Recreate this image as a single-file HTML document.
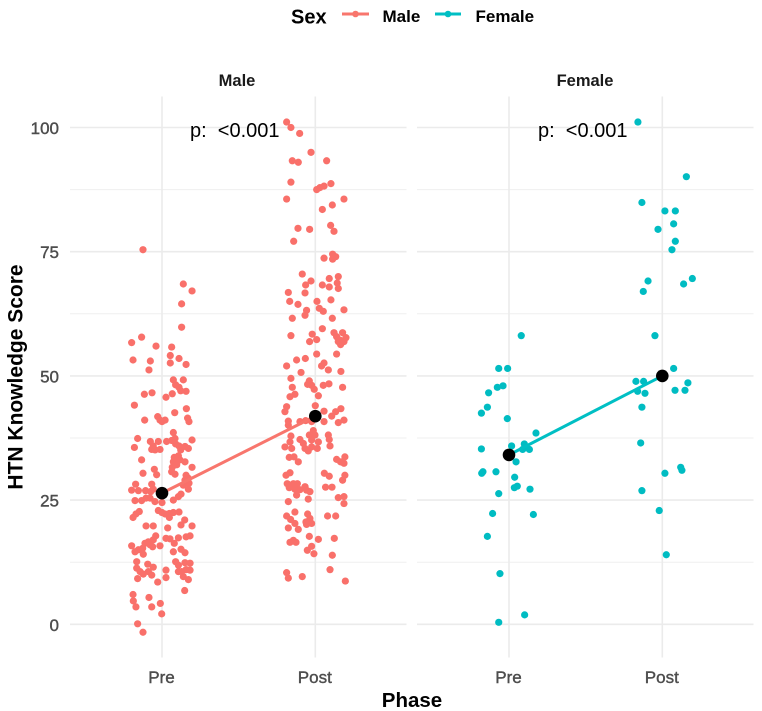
<!DOCTYPE html>
<html>
<head>
<meta charset="utf-8">
<title>HTN Knowledge Score by Phase and Sex</title>
<style>
html,body{margin:0;padding:0;background:#fff;width:762px;height:711px;overflow:hidden}
svg{display:block;filter:blur(0.35px)}
text{font-family:"Liberation Sans",sans-serif}
</style>
</head>
<body>
<svg id="chart" xmlns="http://www.w3.org/2000/svg" width="762" height="711" viewBox="0 0 762 711">
  <rect width="762" height="711" fill="#ffffff"/>
  <g id="grid"></g>
  <g id="marks"></g>
  <g id="labels"></g>
  <text x="237" y="86" font-size="16.5" font-weight="700" fill="#1a1a1a" text-anchor="middle">Male</text>
  <text x="585" y="86" font-size="16.5" font-weight="700" fill="#1a1a1a" text-anchor="middle">Female</text>
  <text x="190" y="137" font-size="20" fill="#000000" xml:space="preserve">p:  &lt;0.001</text>
  <text x="538" y="137" font-size="20" fill="#000000" xml:space="preserve">p:  &lt;0.001</text>
  <text transform="translate(22.5,377) rotate(-90)" font-size="21" font-weight="700" fill="#000000" text-anchor="middle">HTN Knowledge Score</text>
  <text x="412" y="707" font-size="20.5" font-weight="700" fill="#000000" text-anchor="middle">Phase</text>
  <g>
    <text x="291" y="23.5" font-size="20" font-weight="700" fill="#000000">Sex</text>
    <g>
      <line x1="342" x2="369" y1="14" y2="14" stroke="#F8766D" stroke-width="3"/>
      <circle cx="355.5" cy="14" r="3.3" fill="#F8766D"/>
      <text x="382.5" y="22" font-size="17" font-weight="700" fill="#000000">Male</text>
    </g>
    <g>
      <line x1="435" x2="461" y1="14" y2="14" stroke="#00BFC4" stroke-width="3"/>
      <circle cx="448" cy="14" r="3.3" fill="#00BFC4"/>
      <text x="475.5" y="22" font-size="17" font-weight="700" fill="#000000">Female</text>
    </g>
  </g>
</svg>
<script>
const phaseLabels = ["Pre", "Post"];
const yTickValues = [0, 25, 50, 75, 100];
const yMinorValues = [12.5, 37.5, 62.5, 87.5];
const maleMeans = [26.4, 41.9];
const femaleMeans = [34.1, 50];
// each point: [horizontal jitter in category units, score]
const malePrePoints = [[-.124,75.4],[.139,68.5],[.196,67.1],[.128,64.5],[.128,59.8],[-.133,57.8],[-.198,56.7],[-.039,56],[.063,55.8],[.054,54.1],[-.189,53.2],[-.076,53],[.111,53.5],[.054,52.6],[.157,52.3],[-.085,51.2],
[.074,49.2],[.139,49.2],[.089,48.2],[.111,47.7],[.122,47],[.157,46.9],[-.115,46.3],[-.065,46.6],[.067,46.4],[.026,45.7],[-.18,44.1],[.159,43.4],[.083,42.6],[-.028,41.8],[-.113,41.1],[-.013,41.1],[.02,41.1],[0,40.8],[.167,41.5],[.176,40.8],
[.074,38.6],[-.159,37.4],[.196,37.1],[-.076,36.8],[-.024,36.8],[.03,36.8],[.063,37],[.085,37.4],[.089,36.3],[.111,35.9],[.172,35.4],[.15,35.8],[.122,35.1],[-.18,35.6],[-.067,35.2],[-.045,35.1],[-.013,35.2],[-.057,35.9],
[-.133,33.1],[.08,33.6],[.107,33.9],[.074,32.7],[.117,33.1],[.15,32.7],[.067,31.6],[.096,32.1],[.196,31.6],[.063,30.7],[-.05,31.2],[-.124,30.4],[-.035,30.1],[.085,30.2],[.157,30],[.172,29.4],[.15,29],[.176,28.4],[-.067,28.2],[-.172,28.2],[.139,28],
[-.198,27],[-.154,26.9],[-.107,26.9],[-.074,26.7],[-.057,27.2],[.172,27.2],[.124,26.2],[.107,25.7],[.074,25],[-.176,24.9],[-.133,24.9],[-.104,25.4],[-.078,25.4],[-.046,24.7],[0,24.5],
[-.148,22.7],[-.17,22.2],[-.189,21.5],[-.024,22.9],[0,22.5],[.02,22.2],[.048,22.3],[.074,22.5],[.111,22.6],[.048,21.5],[.148,21],[.124,20],[.196,19.8],[-.104,19.8],[-.057,19.8],[.037,19.4],
[-.041,17.8],[.183,17.8],[.157,17.6],[.107,17.4],[.026,17.3],[.052,17.2],[-.057,17],[-.089,16.6],[-.111,16.3],[-.078,16],[-.013,15.8],[.08,16.3],[-.198,15.8],[-.176,14.6],[-.061,15.6],[-.126,15.3],[-.154,15],[-.122,14.1],[.124,15.1],[.15,14.4],[.074,14.6],
[-.165,12.6],[.089,12.6],[-.093,12.1],[-.057,11.5],[.107,11.9],[.15,12.4],[.183,12.3],[-.165,11.3],[-.143,10.6],[.026,10.9],[.107,10.6],[.183,10.9],[.128,10.6],[.157,11],[-.089,10.6],[-.122,10.1],[-.067,9.9],[.026,9.4],[-.159,9.2],[.139,9.6],[.172,9],[-.028,8.5],
[.148,6.8],[-.189,6],[-.085,5.4],[-.187,4.7],[-.011,4.2],[-.17,3.5],[-.067,3.5],[-.002,2.1],[-.159,.1],[-.124,-1.6]];
const malePostPoints = [[-.187,101.1],[-.159,100],[-.102,98.8],[-.028,95],[-.15,93.3],[-.111,93],[.074,93.3],[-.159,89],[.102,88.7],[.057,88.2],[.03,87.9],[.009,87.5],[-.187,85.6],[.187,85.6],[.111,84.4],[.046,83.5],[.1,80.3],[.122,79.1],[-.113,79.7],[-.037,79.5],[-.141,77.1],
[.057,73.7],[.113,74.5],[.133,74],[.113,73.5],[-.085,70.5],[.15,70],[.091,69.6],[-.028,69.1],[-.063,68.3],[.046,68.3],[.091,67.9],[.143,68.7],[.15,67.6],[-.067,66.7],[-.176,66.8],[-.167,65],[-.113,64.4],[.011,65],[.102,65.3],[-.057,63.2],[.026,63.6],[.052,63],[.187,63.3],[-.067,62.2],[-.15,61.6],[.111,61.6],
[.046,59.5],[-.159,58.1],[-.02,58.4],[.009,57.3],[-.037,56.9],[.122,58.7],[.178,58.7],[.139,57.9],[.2,57.7],[.161,57.2],[.187,56.9],[.165,56.3],[.15,56.9],
[.009,54.4],[.139,54.4],[-.187,52],[-.122,53.2],[-.065,53.5],[.057,52.6],[.041,52],[.085,51.2],[-.093,50.7],[.167,50.9],[-.159,49.5],[-.039,49],[-.05,48.3],[-.024,48.1],[-.007,47.3],[-.15,47.7],[-.133,46.3],[-.165,45.8],[.052,48.1],[.089,48.4],[.178,47.7],[.02,46],
[0,44],[-.187,43.8],[-.198,42.8],[.057,42.9],[.167,43.4],[.133,42.8],[.107,41.9],[.187,41.1],[.15,40.6],[.057,40.8],[-.176,40.9],[-.176,40.1],[-.1,40.8],[-.063,41],[-.024,40.8],
[-.159,37.9],[-.013,39],[-.039,38.1],[-.002,38.1],[.085,38.1],[-.1,37.2],[-.024,37.1],[-.165,36.7],[.091,37.2],[-.078,36.4],[.02,36.7],[-.198,35.7],[-.154,35.4],[-.067,35.4],[-.024,35.7],[-.046,34.9],[.013,35.4],[.096,35.9],
[-.17,33.6],[-.139,33.7],[-.111,32.7],[.193,33.7],[.139,33.2],[.165,32.7],[.187,32.4],[.059,30.4],[.091,29.8],[.193,30],[.178,29],[-.191,30],[-.165,30.5],[-.183,28.3],[-.143,28.3],[-.117,28.3],[-.17,27.5],[-.133,27.2],[-.067,27.7],[-.1,27.1],[-.057,27],[-.035,26.7],[-.122,26],[.067,27.6],[.109,27.6],
[.15,25.5],[.187,25.7],[.187,24.3],[-.046,25.2],[-.176,24.7],[-.133,22.6],[-.187,21.8],[-.161,21.1],[-.133,20.3],[-.176,19.4],[-.111,19.1],[-.05,22.2],[-.035,21.3],[-.061,20.6],[-.024,20.3],[-.057,20.1],[.08,21.8],[.133,21.8],
[-.039,17.7],[.02,17.1],[.124,17.3],[-.143,16.9],[-.165,16.5],[-.126,16.5],[-.024,15.7],[-.052,14.9],[-.009,14.2],[.111,13.9],[.096,11],[-.187,10.4],[-.176,9.3],[-.085,9.6],[.196,8.7]];
const femalePrePoints = [[.08,58.1],[-.067,51.5],[-.009,51.5],[-.076,47.7],[-.039,48],[-.133,46.6],[-.141,43.7],[-.18,42.5],[-.011,41.4],[.176,38.5],[-.18,35.3],[.017,35.9],[.1,36.3],[.089,35.2],[.111,35.7],[.133,35.2],[.046,32.7],[-.17,30.7],[-.178,30.4],[-.085,30.7],[.037,29.6],[.054,27.8],[.035,27.5],[.137,27.2],[-.067,26.3],[-.107,22.3],[.159,22.1],[-.141,17.7],[-.059,10.2],[.102,1.9],[-.067,.4]];
const femalePostPoints = [[-.159,101.1],[.157,90.1],[-.133,84.9],[.017,83.2],[.085,83.2],[.074,80.6],[-.028,79.5],[.085,77.1],[.063,75.4],[-.093,69.1],[.196,69.6],[.139,68.5],[-.124,67],[-.048,58.1],[.074,51.5],[-.172,48.9],[-.122,48.9],[.167,48.6],[-.161,46.9],[-.113,46.5],[.083,47.1],[.148,47.1],[-.133,43.7],[-.141,36.5],[.12,31.6],[.128,31],[.017,30.4],[-.133,26.9],[-.02,22.9],[.026,14]];

const NS = "http://www.w3.org/2000/svg";
const gridLayer = document.getElementById("grid");
const markLayer = document.getElementById("marks");
const labelLayer = document.getElementById("labels");

const plotTop = 96.5, plotBottom = 657.5;
const panelLefts = [70, 417];
const panelWidth = 336.5;

function yScale(v) { return 624.3 - v * 4.968; }
// category position 1 = Pre, 2 = Post
function xScale(panel, pos) { return panelLefts[panel] + 92 + (pos - 1) * 153.3; }

function addLine(parent, x1, y1, x2, y2, color, width) {
  const l = document.createElementNS(NS, "line");
  l.setAttribute("x1", x1);
  l.setAttribute("y1", y1);
  l.setAttribute("x2", x2);
  l.setAttribute("y2", y2);
  l.setAttribute("stroke", color);
  l.setAttribute("stroke-width", width);
  parent.appendChild(l);
  return l;
}
function addDot(parent, cx, cy, r, color) {
  const c = document.createElementNS(NS, "circle");
  c.setAttribute("cx", cx);
  c.setAttribute("cy", cy);
  c.setAttribute("r", r);
  c.setAttribute("fill", color);
  parent.appendChild(c);
  return c;
}
function addLabel(x, y, str, anchor) {
  const t = document.createElementNS(NS, "text");
  t.setAttribute("x", x);
  t.setAttribute("y", y);
  t.setAttribute("font-size", "17");
  t.setAttribute("fill", "#4d4d4d");
  t.setAttribute("stroke", "#4d4d4d");
  t.setAttribute("stroke-width", "0.4");
  t.setAttribute("text-anchor", anchor);
  t.textContent = str;
  labelLayer.appendChild(t);
  return t;
}

[0, 1].forEach(function (p) {
  const left = panelLefts[p], right = left + panelWidth;
  yMinorValues.forEach(function (v) {
    const g = addLine(gridLayer, left, yScale(v), right, yScale(v), "#efefef", 1);
    
    
  });
  yTickValues.forEach(function (v) {
    const g = addLine(gridLayer, left, yScale(v), right, yScale(v), "#ebebeb", 1.6);
    
    
  });
  phaseLabels.forEach(function (name, i) {
    const x = xScale(p, i + 1);
    const g = addLine(gridLayer, x, plotTop, x, plotBottom, "#ebebeb", 1.6);
    
    
    const lab = addLabel(x - 0.5, 683, name, "middle");
    
    
  });
});
yTickValues.forEach(function (v) {
  const lab = addLabel(59, yScale(v) + 6.5, String(v), "end");
  
  
});

function drawGroup(panel, pos, points, color, name) {
  points.forEach(function (pt) {
    const d = addDot(markLayer, xScale(panel, pos + pt[0]), yScale(pt[1]), 3.6, color);
    
    
  });
}
drawGroup(0, 1, malePrePoints, "#F9706A", "male-pre-point");
drawGroup(0, 2, malePostPoints, "#F9706A", "male-post-point");
drawGroup(1, 1, femalePrePoints, "#00BCC2", "female-pre-point");
drawGroup(1, 2, femalePostPoints, "#00BCC2", "female-post-point");

function drawMeans(panel, means, color, name) {
  const ln = addLine(markLayer, xScale(panel, 1), yScale(means[0]), xScale(panel, 2), yScale(means[1]), color, 3);
  
  
  means.forEach(function (m, i) {
    const d = addDot(markLayer, xScale(panel, i + 1), yScale(m), 6.3, "#000000");
    
    
  });
}
drawMeans(0, maleMeans, "#F8766D", "male");
drawMeans(1, femaleMeans, "#00BFC4", "female");
</script>
</body>
</html>
